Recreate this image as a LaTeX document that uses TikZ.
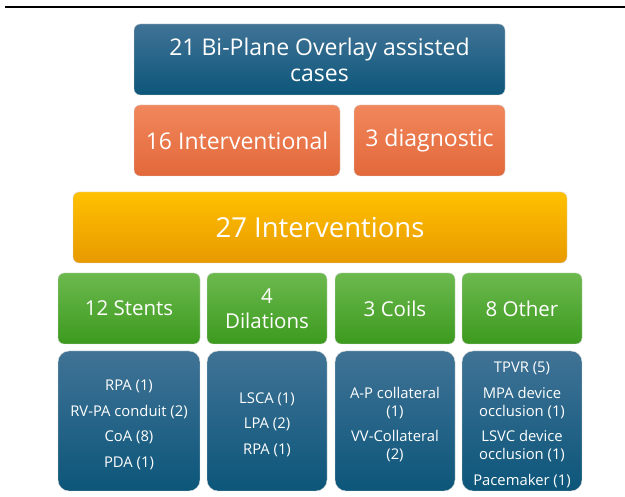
\documentclass[tikz,border=0pt]{standalone}
\usepackage{fontspec}
\setmainfont{Open Sans}
\newcommand{\topstrut}{\rule{0pt}{18pt}}
\begin{document}
\begin{tikzpicture}[x=1pt,y=-1pt,
  box/.style={rectangle, rounded corners=6pt, draw=white!85!black, line width=0.4pt,
    text=white, align=center, inner sep=2pt, anchor=center},
  bluebox/.style={box, top color={rgb,255:red,64;green,115;blue,150}, bottom color={rgb,255:red,12;green,86;blue,122}},
  orangebox/.style={box, top color={rgb,255:red,241;green,135;blue,92}, bottom color={rgb,255:red,226;green,104;blue,58}},
  yellowbox/.style={box, top color={rgb,255:red,255;green,193;blue,0}, bottom color={rgb,255:red,232;green,153;blue,0}},
  greenbox/.style={box, top color={rgb,255:red,108;green,185;blue,78}, bottom color={rgb,255:red,60;green,154;blue,30}},
  detail/.style={bluebox, rounded corners=11pt, font=\fontsize{14.8}{18}\selectfont},
]
\useasboundingbox (0,0) rectangle (625,497);
\coordinate (l1) at (5,7);
\coordinate (l2) at (625,7);
\draw[line width=2pt] (l1) -- (l2);

\node[bluebox, minimum width=371pt, minimum height=71pt, font=\fontsize{23}{26}\selectfont]
  (top) at (319.5,59.5) {21 Bi-Plane Overlay assisted\\cases};
\node[orangebox, minimum width=206pt, minimum height=71pt, font=\fontsize{23}{26}\selectfont]
  (interv) at (237,140.5) {16 Interventional};
\node[orangebox, minimum width=151pt, minimum height=71pt, font=\fontsize{23}{26}\selectfont]
  (diag) at (429.5,140.5) {3 diagnostic};
\node[yellowbox, minimum width=494pt, minimum height=71pt, font=\fontsize{27.5}{30}\selectfont]
  (interventions) at (320,227.5) {27 Interventions};

\tikzset{gbox/.style={greenbox, minimum height=71pt, font=\fontsize{20.5}{25}\selectfont}}
\node[gbox, minimum width=142pt] (stents) at (129,308.5) {12 Stents};
\node[gbox, minimum width=120pt] (dil) at (267,308.5) {4\\Dilations};
\node[gbox, minimum width=120pt] (coils) at (395,308.5) {3 Coils};
\node[gbox, minimum width=120pt] (other) at (522,308.5) {8 Other};

\node[detail, minimum width=142pt, minimum height=140pt] (stentsd) at (129,421)
  {\topstrut RPA (1)\\[7.5pt]RV-PA conduit (2)\\[7.5pt]CoA (8)\\[7.5pt]PDA (1)};
\node[detail, minimum width=120pt, minimum height=140pt] (dild) at (267,421)
  {\topstrut LSCA (1)\\[7.5pt]LPA (2)\\[7.5pt]RPA (1)};
\node[detail, minimum width=120pt, minimum height=140pt] (coilsd) at (395,421)
  {\topstrut A-P collateral\\(1)\\[7.5pt]VV-Collateral\\(2)};
\node[detail, minimum width=120pt, minimum height=140pt] (otherd) at (522,421)
  {\topstrut TPVR (5)\\[7.5pt]MPA device\\occlusion (1)\\[7.5pt]LSVC device\\occlusion (1)\\[7.5pt]Pacemaker (1)};
\end{tikzpicture}
\end{document}
